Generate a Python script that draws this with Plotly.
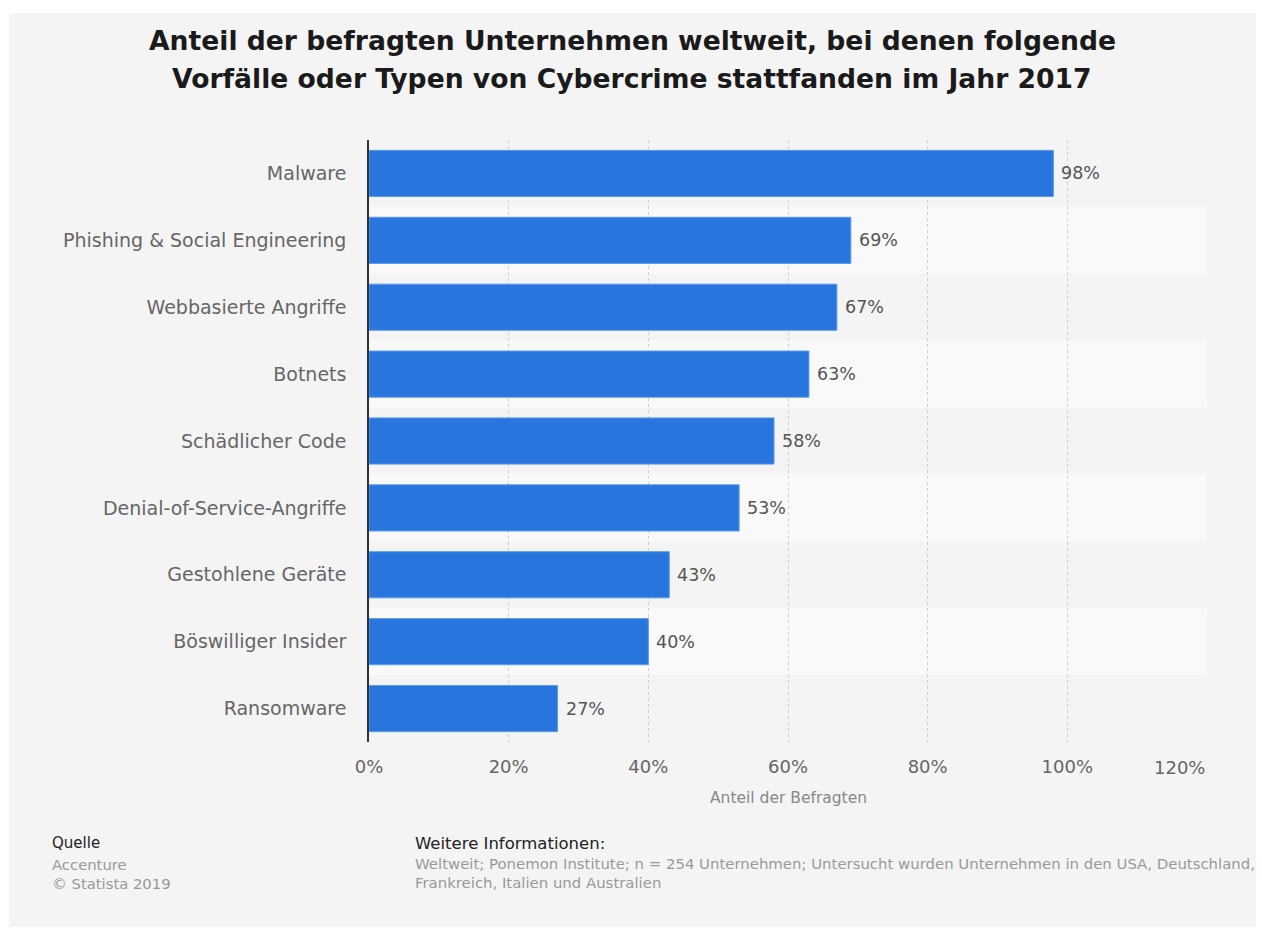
import plotly.graph_objects as go

# Data
categories = [
    "Malware",
    "Phishing & Social Engineering",
    "Webbasierte Angriffe",
    "Botnets",
    "Schädlicher Code",
    "Denial-of-Service-Angriffe",
    "Gestohlene Geräte",
    "Böswilliger Insider",
    "Ransomware",
]
values = [98, 69, 67, 63, 58, 53, 43, 40, 27]
x_ticks = [0, 20, 40, 60, 80, 100, 120]

title_lines = [
    "Anteil der befragten Unternehmen weltweit, bei denen folgende",
    "Vorfälle oder Typen von Cybercrime stattfanden im Jahr 2017",
]
x_title = "Anteil der Befragten"
source_lines = ["Accenture", "© Statista 2019"]
info_lines = [
    "Weltweit; Ponemon Institute; n = 254 Unternehmen; Untersucht wurden Unternehmen in den USA, Deutschland,",
    "Frankreich, Italien und Australien",
]

# Layout geometry (pixels)
W, H = 1262, 929
L, R, T, B = 369, 1207, 140, 742
PW, PH = R - L, B - T


def px_x(px):
    return (px - L) / PW


def px_y(py):
    return (B - py) / PH


BAR = "#2775dd"
PANEL = "#f4f4f4"
BAND = "#f9f9f9"
FONT = "DejaVu Sans"
TICK_COLOR = "#666666"

fig = go.Figure()
fig.add_trace(
    go.Bar(
        x=values,
        y=categories,
        orientation="h",
        marker=dict(color=BAR, line=dict(color="#5d9be9", width=1)),
        width=0.69,
        hoverinfo="skip",
    )
)

shapes = [
    # grey panel behind everything
    dict(
        type="rect", xref="paper", yref="paper", layer="below",
        x0=px_x(9), x1=px_x(1256), y0=px_y(927), y1=px_y(13),
        fillcolor=PANEL, line=dict(width=0),
    )
]
# alternating row bands
for i in range(1, len(categories), 2):
    shapes.append(
        dict(
            type="rect", xref="paper", yref="y", layer="below",
            x0=0, x1=1, y0=i - 0.5, y1=i + 0.5,
            fillcolor=BAND, line=dict(width=0),
        )
    )

annotations = []
# value labels next to the bars
for cat, v in zip(categories, values):
    annotations.append(
        dict(
            x=v, y=cat, xref="x", yref="y", text=f"{v}%",
            showarrow=False, xanchor="left", yanchor="middle", xshift=6,
            font=dict(family=FONT, size=17.5, color="#555555"),
        )
    )

# the last x tick label is kept inside the plot's right edge
last_tick = x_ticks[-1]
annotations.append(
    dict(
        x=last_tick, y=px_y(767), xref="x", yref="paper", text=f"{last_tick}%",
        showarrow=False, xanchor="right", yanchor="middle",
        font=dict(family=FONT, size=18, color=TICK_COLOR),
    )
)

# title
for line, py in zip(title_lines, [40, 78]):
    annotations.append(
        dict(
            x=px_x(632), y=px_y(py), xref="paper", yref="paper", text=f"<b>{line}</b>",
            showarrow=False, xanchor="center", yanchor="middle",
            font=dict(family=FONT, size=26.6, color="#1a1a1a"),
        )
    )

# axis title
annotations.append(
    dict(
        x=0.5, y=px_y(798), xref="paper", yref="paper", text=x_title,
        showarrow=False, xanchor="center", yanchor="middle",
        font=dict(family=FONT, size=15.5, color="#888888"),
    )
)

# footer
annotations.append(
    dict(
        x=px_x(50), y=px_y(843), xref="paper", yref="paper", text="Quelle",
        showarrow=False, xanchor="left", yanchor="middle",
        font=dict(family=FONT, size=15, color="#222222"),
    )
)
for line, py in zip(source_lines, [864, 883]):
    annotations.append(
        dict(
            x=px_x(50), y=px_y(py), xref="paper", yref="paper", text=line,
            showarrow=False, xanchor="left", yanchor="middle",
            font=dict(family=FONT, size=14.8, color="#999999"),
        )
    )
annotations.append(
    dict(
        x=px_x(413), y=px_y(843), xref="paper", yref="paper", text="Weitere Informationen:",
        showarrow=False, xanchor="left", yanchor="middle",
        font=dict(family=FONT, size=16.5, color="#222222"),
    )
)
for line, py in zip(info_lines, [864, 883]):
    annotations.append(
        dict(
            x=px_x(413), y=px_y(py), xref="paper", yref="paper", text=line,
            showarrow=False, xanchor="left", yanchor="middle",
            font=dict(family=FONT, size=14.9, color="#999999"),
        )
    )

fig.update_layout(
    width=W,
    height=H,
    margin=dict(l=L, r=W - R, t=T, b=H - B, pad=0),
    paper_bgcolor="white",
    plot_bgcolor="rgba(0,0,0,0)",
    showlegend=False,
    bargap=0.31,
    shapes=shapes,
    annotations=annotations,
    font=dict(family=FONT),
    xaxis=dict(
        range=[0, 120],
        tickvals=x_ticks,
        ticktext=[f"{t}%" if t != last_tick else "" for t in x_ticks],
        showgrid=True,
        gridcolor="#cfcfcf",
        griddash="dot",
        gridwidth=1,
        zeroline=False,
        showline=False,
        ticks="outside",
        ticklen=8,
        tickcolor="rgba(0,0,0,0)",
        tickfont=dict(family=FONT, size=18, color=TICK_COLOR),
        fixedrange=True,
    ),
    yaxis=dict(
        categoryorder="array",
        categoryarray=categories,
        autorange="reversed",
        showgrid=False,
        zeroline=False,
        showline=True,
        linecolor="#333333",
        linewidth=1.5,
        ticks="outside",
        ticklen=17,
        tickcolor="rgba(0,0,0,0)",
        tickfont=dict(family=FONT, size=19, color=TICK_COLOR),
        fixedrange=True,
    ),
)

fig.write_html("out.html")
